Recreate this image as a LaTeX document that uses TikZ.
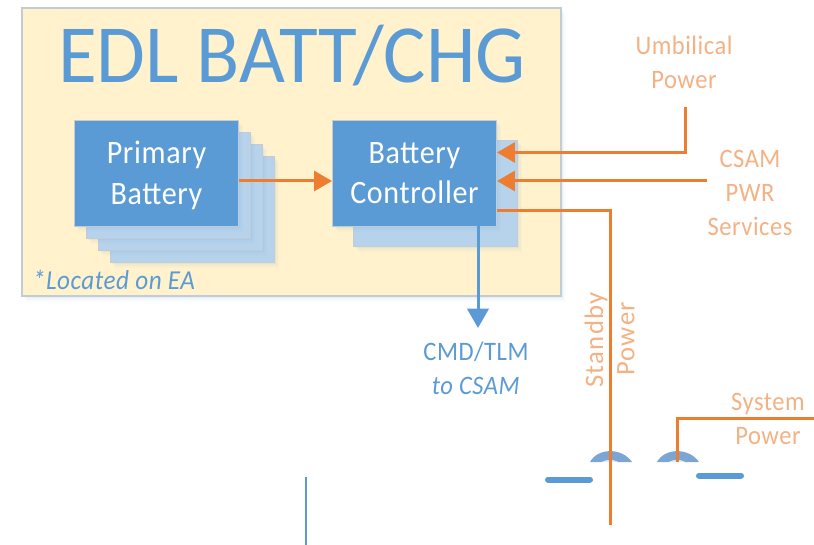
\documentclass[tikz,border=0pt]{standalone}
\usepackage{fontspec}
\setmainfont{Carlito}
\usetikzlibrary{shadows,arrows.meta}
\definecolor{cblue}{HTML}{5B9BD5}
\definecolor{cback}{HTML}{B7D3EC}
\definecolor{cyel}{HTML}{FFF2CC}
\definecolor{cedge}{HTML}{C4CCD3}
\definecolor{corg}{HTML}{ED7D31}
\definecolor{clorg}{HTML}{F4B183}
\definecolor{carc}{HTML}{7CA5D3}
\definecolor{cpale}{HTML}{DEEBF7}
\newfontfamily\narrowfont[FakeStretch=.92,LetterSpace=2]{Carlito}
\newfontfamily\widefont[FakeStretch=1,LetterSpace=5]{Carlito}
\newfontfamily\titlefont[FakeStretch=.96]{Carlito}
\tikzset{
 softshade/.style={
  general shadow={shadow xshift=1.2pt,shadow yshift=-1.5pt,fill=cblue,opacity=.07},
  general shadow={shadow xshift=2.4pt,shadow yshift=-3pt,fill=cblue,opacity=.05},
  general shadow={shadow xshift=3.6pt,shadow yshift=-4.5pt,fill=cblue,opacity=.03}},
 panel/.style={rectangle,draw=cedge,line width=.8pt,fill=cyel,inner sep=0pt,softshade},
 frontbox/.style={rectangle,draw=cedge,line width=.7pt,fill=cblue,inner sep=0pt,text=white,align=center,
   minimum width=123pt,minimum height=79.5pt,softshade,font=\fontsize{24.5pt}{30.5pt}\narrowfont},
 backbox/.style={rectangle,draw=cedge,line width=.7pt,fill=cback,inner sep=0pt,
   minimum width=123pt,minimum height=79.5pt,softshade},
 owire/.style={draw=corg,line width=2.25pt},
 bwire/.style={draw=cblue,line width=2.25pt},
 ohead/.style={-{Triangle[length=13.5pt,width=15pt,fill=corg]}},
 bhead/.style={-{Triangle[length=14.5pt,width=16pt,fill=cblue]}},
 olabel/.style={text=clorg,align=center,inner sep=0pt,font=\fontsize{20pt}{25.5pt}\narrowfont},
 rlabel/.style={text=clorg,inner sep=0pt,rotate=90,font=\fontsize{20pt}{25.5pt}\widefont},
 blabel/.style={text=cblue,align=center,inner sep=0pt,font=\fontsize{20pt}{26pt}\narrowfont},
 barline/.style={draw=cblue,line width=4.5pt,line cap=round},
}
\begin{document}
\begin{tikzpicture}[x=.75pt,y=-.75pt]
\useasboundingbox (0,0) rectangle (814,545);
% panel
\node[panel,minimum width=404.25pt,minimum height=216pt] (panel) at (291.5,152) {};
\node[text=cblue,inner sep=0pt,font=\fontsize{62pt}{62pt}\titlefont] (title) at (292,56) {EDL BATT/CHG};
% primary stack
\node[backbox] (p3) at (192.5,209.5) {};
\node[backbox] (p2) at (180.5,197) {};
\node[backbox] (p1) at (168.5,185) {};
\node[frontbox] (prim) at (156.5,173) {\rule{0pt}{20pt}Primary\\Battery};
% controller stack
\node[backbox] (c1) at (435.5,193) {};
\node[frontbox] (ctrl) at (414.5,173) {Battery\\Controller};
\node[blabel,font=\fontsize{20.5pt}{22pt}\narrowfont\itshape] (loc) at (114,280) {*Located on EA};
% labels
\node[olabel] (umb) at (684,62) {Umbilical\\Power};
\node[olabel] (csam) at (750,193) {CSAM\\PWR\\Services};
\node[blabel] (cmd) at (476,368.5) {CMD/TLM\\\textit{to CSAM}};
\node[rlabel] (stby) at (596,340) {Standby};
\node[rlabel] (pwr) at (626,339) {Power};
\node[olabel] (sys) at (768,419) {System\\Power};
% connectors
\coordinate (umbtop) at (685,107);
\coordinate (csamend) at (707,181);
\coordinate (stbyend) at (610,525);
\coordinate (sysend) at (814,418);
\coordinate (sysbot) at (677,462);
\coordinate (cmdend) at (478,328);
\draw[owire,ohead] (prim.east |- 0,181) -- (ctrl.west |- 0,181);
\draw[owire,ohead] (umbtop) -- (umbtop |- 0,152.5) -- (ctrl.east |- 0,152.5);
\draw[owire,ohead] (csamend) -- (ctrl.east |- csamend);
\draw[bwire,bhead] (cmdend |- ctrl.south) -- (cmdend);
% arcs
\fill[carc] (590,462) .. controls (598,447.5) and (622,447.5) .. (632,462) -- (618,462) .. controls (614,459.5) and (606,459.5) .. (602,462) -- cycle;
\fill[cpale] (602,462) .. controls (606,459.5) and (614,459.5) .. (618,462) -- cycle;
\fill[carc] (657,462) .. controls (665,447.5) and (689,447.5) .. (699,462) -- (685,462) .. controls (681,459.5) and (673,459.5) .. (669,462) -- cycle;
\fill[cpale] (669,462) .. controls (673,459.5) and (681,459.5) .. (685,462) -- cycle;
\draw[owire] (ctrl.east |- 0,211) -- (610,211) -- (stbyend);
\draw[owire] (sysend) -- (sysbot |- sysend) -- (sysbot);
% bars
\coordinate (b1a) at (548,479.5); \coordinate (b1b) at (590,479.5);
\coordinate (b2a) at (699,475.5); \coordinate (b2b) at (741,475.5);
\draw[barline] (b1a) -- (b1b);
\draw[barline] (b2a) -- (b2b);
\coordinate (vt) at (306,477); \coordinate (vb) at (306,545);
\draw[draw=cblue,line width=1.5pt] (vt) -- (vb);
\end{tikzpicture}
\end{document}
